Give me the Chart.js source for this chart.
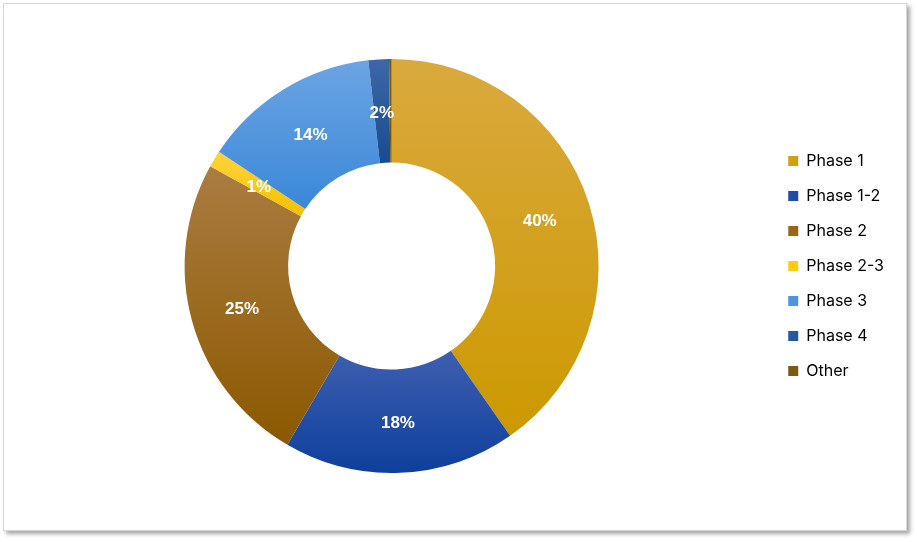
<!DOCTYPE html>
<html>
<head>
<meta charset="utf-8">
<script src="https://cdn.jsdelivr.net/npm/chart.js@4.4.1/dist/chart.umd.min.js"></script>
<style>
  html, body { margin: 0; padding: 0; background: #ffffff; }
  #wrap { position: relative; width: 917px; height: 542px; overflow: hidden; }
  #card { position: absolute; left: 3px; top: 3px; width: 902px; height: 526px;
          border: 1px solid #d6d6d6; background: #fff;
          box-shadow: 3px 3px 4px rgba(0,0,0,0.35); }
  #c { position: absolute; left: 0; top: 0; }
</style>
</head>
<body>
<div id="wrap">
  <div id="card"></div>
  <canvas id="c" width="917" height="542"></canvas>
</div>
<script>
const categories = ["Phase 1", "Phase 1-2", "Phase 2", "Phase 2-3", "Phase 3", "Phase 4", "Other"];
const shares = [40.3, 18.1, 24.6, 1.3, 13.9, 1.6, 0.2];
const topColors = ["#DAA93E", "#3E5FB0", "#AA7C40", "#FFD43C", "#6CA4E3", "#3D67A8", "#7C5C14"];
const bottomColors = ["#CC9900", "#0E3F9C", "#8B5900", "#F2C000", "#3A88D8", "#174C8E", "#76560A"];
const legendColors = ["#D29F12", "#1D4BA6", "#9A6616", "#FFCC10", "#4D95DE", "#245A9C", "#7A5A0C"];

const CUTOUT = 0.5;

function segmentGradient(context) {
  const chart = context.chart;
  const i = context.dataIndex;
  const area = chart.chartArea;
  if (!area || i === undefined) return bottomColors[i] || bottomColors[0];
  const total = shares.reduce((a, b) => a + b, 0);
  let before = 0;
  for (let k = 0; k < i; k++) before += shares[k];
  const a0 = before / total * 2 * Math.PI;
  const a1 = (before + shares[i]) / total * 2 * Math.PI;
  const cx = (area.left + area.right) / 2;
  const cy = (area.top + area.bottom) / 2;
  const rO = Math.min(area.right - area.left, area.bottom - area.top) / 2;
  const rI = rO * CUTOUT;
  let minY = Infinity, maxY = -Infinity;
  const steps = 60;
  for (let s = 0; s <= steps; s++) {
    const t = a0 + (a1 - a0) * s / steps;
    for (const r of [rI, rO]) {
      const y = cy - r * Math.cos(t);
      if (y < minY) minY = y;
      if (y > maxY) maxY = y;
    }
  }
  if (maxY - minY < 1) maxY = minY + 1;
  const g = chart.ctx.createLinearGradient(0, minY, 0, maxY);
  g.addColorStop(0, topColors[i]);
  g.addColorStop(1, bottomColors[i]);
  return g;
}

const sliceLabels = {
  id: 'sliceLabels',
  afterDatasetsDraw(chart) {
    const ctx = chart.ctx;
    const meta = chart.getDatasetMeta(0);
    const total = shares.reduce((a, b) => a + b, 0);
    ctx.save();
    ctx.font = "bold 17px 'Liberation Sans', Arial, sans-serif";
    ctx.fillStyle = "#ffffff";
    ctx.textAlign = "center";
    ctx.textBaseline = "middle";
    meta.data.forEach((arc, i) => {
      const pct = Math.round(shares[i] / total * 100);
      if (pct < 1) return;
      const p = arc.tooltipPosition();
      ctx.fillText(pct + "%", p.x, p.y + 2);
    });
    ctx.restore();
  }
};

new Chart(document.getElementById('c'), {
  type: 'doughnut',
  data: {
    labels: categories,
    datasets: [{
      data: shares,
      backgroundColor: segmentGradient,
      borderWidth: 0,
      hoverOffset: 0
    }]
  },
  options: {
    responsive: false,
    animation: false,
    cutout: '50%',
    layout: { padding: { left: 14, right: 23, top: 59, bottom: 69 } },
    plugins: {
      tooltip: { enabled: false },
      legend: {
        position: 'right',
        labels: {
          boxWidth: 10,
          boxHeight: 10,
          padding: 19,
          color: '#1f2a3a',
          font: { family: "Inter, 'Liberation Sans', sans-serif", size: 16 },
          generateLabels(chart) {
            return categories.map((c, i) => ({
              text: c,
              fillStyle: legendColors[i],
              strokeStyle: legendColors[i],
              lineWidth: 0,
              hidden: false,
              index: i
            }));
          }
        }
      }
    }
  },
  plugins: [sliceLabels]
});
</script>
</body>
</html>
